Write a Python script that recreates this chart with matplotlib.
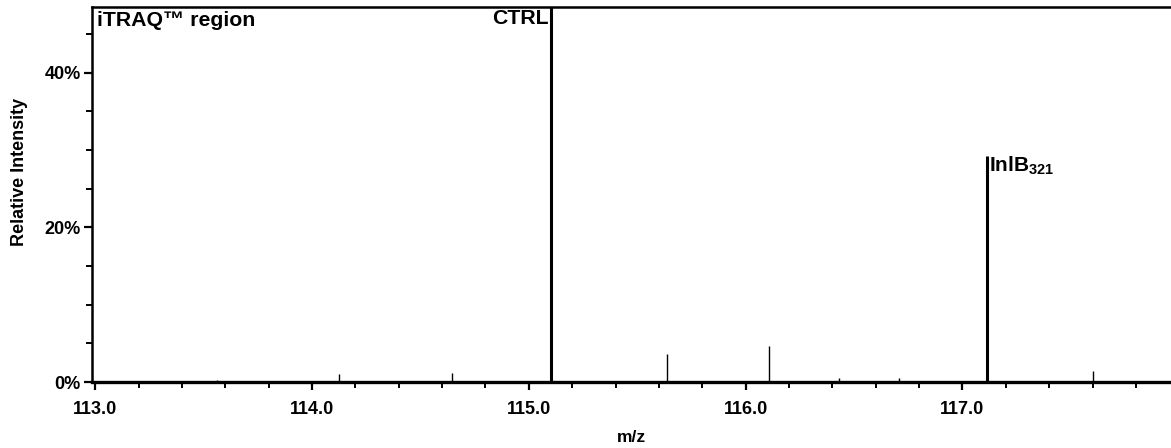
import matplotlib
matplotlib.use('Agg')
import matplotlib.pyplot as plt
from matplotlib.ticker import MultipleLocator, PercentFormatter

plt.rcParams['font.family'] = ['Liberation Sans', 'DejaVu Sans']
plt.rcParams['font.weight'] = 'bold'
plt.rcParams['mathtext.fontset'] = 'custom'
plt.rcParams['mathtext.rm'] = 'Liberation Sans:bold'
plt.rcParams['mathtext.bf'] = 'Liberation Sans:bold'

# reporter ion peaks (m/z, relative intensity in %)
mz = [113.56, 114.125, 114.646, 115.104, 115.636, 116.109, 116.43, 116.707, 117.113, 117.60]
intensity = [0.3, 1.0, 1.15, 100.0, 3.6, 4.7, 0.55, 0.55, 29.2, 1.4]

ctrl_mz = 115.104
inlb_mz, inlb_int = 117.113, 29.2

W, H = 1171, 448
fig = plt.figure(figsize=(W / 100, H / 100), dpi=100)
ax = fig.add_axes([92 / W, (H - 382) / H, (W - 92) / W, (382 - 7) / H])

for x, y in zip(mz, intensity):
    lw = 2.2 if y > 10 else 1.0
    ax.vlines(x, 0, y, color='black', linewidth=lw)

ax.set_xlim(112.985, 117.962)
ax.set_ylim(0, 48.5)

ax.xaxis.set_major_locator(MultipleLocator(1.0))
ax.xaxis.set_minor_locator(MultipleLocator(0.2))
ax.yaxis.set_major_locator(MultipleLocator(20))
ax.yaxis.set_minor_locator(MultipleLocator(5))
ax.xaxis.set_major_formatter(lambda v, p: f'{v:.1f}')
ax.yaxis.set_major_formatter(PercentFormatter(decimals=0))

ax.spines['right'].set_visible(False)
ax.spines['left'].set_linewidth(1.8)
ax.spines['top'].set_linewidth(1.8)
ax.spines['bottom'].set_linewidth(2.4)
ax.tick_params(which='major', direction='out', length=6, width=1.6, labelsize=13, pad=8)
ax.tick_params(which='minor', direction='out', length=4, width=1.4)
ax.tick_params(axis='y', which='major', pad=2)

ax.set_xlabel('m/z', fontsize=12.5, fontweight='bold', labelpad=8)
ax.set_ylabel('Relative Intensity', fontsize=13, fontweight='bold')
ax.yaxis.set_label_coords(-0.059, 0.56)

ax.text(0.005, 0.99, 'iTRAQ™ region', transform=ax.transAxes, ha='left', va='top',
        fontsize=15.3, fontweight='bold')
ax.annotate('CTRL', xy=(ctrl_mz, 48.5), xytext=(-2, -1.5), textcoords='offset points',
            ha='right', va='top', fontsize=15.3, fontweight='bold')
ax.annotate(r'InlB$_{\mathbf{321}}$', xy=(inlb_mz, inlb_int), xytext=(1.5, 1.5),
            textcoords='offset points', ha='left', va='top', fontsize=15, fontweight='bold')

fig.savefig('out.png', dpi=100)
